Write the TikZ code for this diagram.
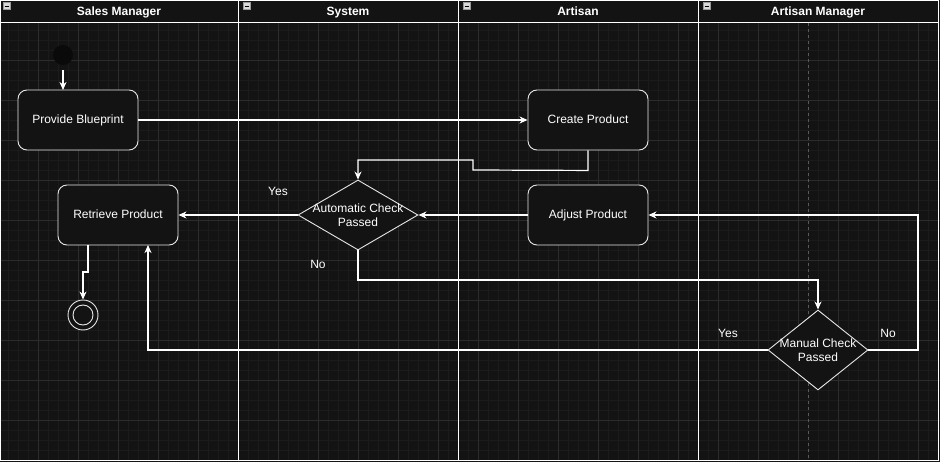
\documentclass[tikz,border=0pt]{standalone}
\usepackage{fontspec}
\setmainfont{Liberation Sans}
\usetikzlibrary{arrows.meta,shapes.geometric}
\definecolor{bg}{HTML}{131313}
\definecolor{gridminor}{HTML}{1B1B1B}
\definecolor{gridmajor}{HTML}{2C2C2C}
\definecolor{shapeline}{HTML}{E6E6E6}
\definecolor{guide}{HTML}{5A5A5A}
\definecolor{startfill}{HTML}{0A0A0A}
\tikzset{
  lane/.style={draw=white, line width=1pt},
  headtext/.style={text=white, font=\fontsize{12}{14}\selectfont\bfseries, anchor=base, inner sep=0pt},
  actbox/.style={draw=shapeline, fill=bg, rounded corners=9pt, minimum width=120pt, minimum height=60pt, inner sep=0pt, text=white, font=\fontsize{12}{14}\selectfont, text height=8.6pt, text depth=2.4pt, line width=0.9pt},
  decis/.style={draw=shapeline, fill=bg, diamond, inner sep=0pt, line width=0.9pt},
  dectext/.style={text=white, font=\fontsize{12}{14.5}\selectfont, align=center},
  conn/.style={draw=white, line width=1.2pt, -{Stealth[length=8pt,width=7pt,inset=2.5pt]}},
  lbl/.style={text=white, font=\fontsize{12}{14}\selectfont, text height=8.6pt, text depth=2.4pt},
  icon/.style={fill=black!15, draw=black!40, line width=0.4pt}
}
\begin{document}
\begin{tikzpicture}[x=1pt,y=-1pt]
\useasboundingbox (0,0) rectangle (940,462);
\fill[bg] (0,0) rectangle (940,462);
% grid
\foreach \x in {8,18,...,938} \draw[gridminor, line width=0.6pt] (\x,0) -- (\x,462);
\foreach \y in {10,20,...,460} \draw[gridminor, line width=0.6pt] (0,\y) -- (940,\y);
\foreach \x in {38,78,...,938} \draw[gridmajor, line width=0.8pt] (\x,0) -- (\x,462);
\foreach \y in {20,60,...,460} \draw[gridmajor, line width=0.8pt] (0,\y) -- (940,\y);
% header background
\fill[bg] (0,0) rectangle (940,23);
% guide
\draw[guide, dashed, dash pattern=on 3pt off 3pt, line width=0.8pt] (808,23) -- (808,460);
% lanes
\draw[lane] (0.5,0.5) rectangle (938,460);
\draw[lane] (0,23) -- (938,23);
\draw[lane] (238,0) -- (238,460);
\draw[lane] (458,0) -- (458,460);
\draw[lane] (698,0) -- (698,460);
% header icons
\foreach \x in {2,242,462,702} {
  \draw[icon] (\x+1,2.5) rectangle (\x+8,9.5);
  \draw[black, line width=0.9pt] (\x+2.5,6) -- (\x+6.5,6);
}
\node[headtext] (h1) at (119,16) {Sales Manager};
\node[headtext] (h2) at (348,16) {System};
\node[headtext] (h3) at (578,16) {Artisan};
\node[headtext] (h4) at (818,16) {Artisan Manager};
% nodes
\node[circle, fill=startfill, minimum size=20pt, inner sep=0pt] (start) at (63,55) {};
\node[actbox] (pb) at (78,120) {Provide Blueprint};
\node[actbox] (cp) at (588,120) {Create Product};
\node[actbox] (ap) at (588,215) {Adjust Product};
\node[actbox] (rp) at (118,215) {Retrieve Product};
\node[decis, minimum width=120pt, minimum height=70pt] (dA) at (358,215) {};
\node[dectext] (dAt) at (358,215) {Automatic Check\\Passed};
\node[decis, minimum width=100pt, minimum height=80pt] (dM) at (818,350) {};
\node[dectext] (dMt) at (818,350) {Manual Check\\Passed};
\node[circle, draw=shapeline, fill=bg, minimum size=30pt, inner sep=0pt, line width=0.9pt] (endo) at (83,315) {};
\node[circle, draw=shapeline, minimum size=20pt, inner sep=0pt, line width=0.9pt] (endi) at (83,315) {};
% connectors
\draw[conn] (63,70) -- (63,90);
\draw[conn] (pb.east) -- (cp.west);
\draw[conn] (cp.south) -- ++(0,20) -- (473,170) -- (473,160) -- (358,160) -- (dA.north);
\draw[conn] (ap.west) -- (dA.east);
\draw[conn] (dA.west) -- (rp.east);
\draw[conn] (dA.south) -- (358,280) -- (818,280) -- (dM.north);
\draw[conn] (dM.west) -- (148,350) -- (148,245);
\draw[conn] (dM.east) -- (918,350) -- (918,215) -- (ap.east);
\draw[conn] (88,245) -- (88,272) -- (83,272) -- (endo.north);
% labels
\node[lbl] (l1) at (278,192) {Yes};
\node[lbl] (l2) at (318,265) {No};
\node[lbl] (l3) at (728,334) {Yes};
\node[lbl] (l4) at (888,334) {No};
\end{tikzpicture}
\end{document}
